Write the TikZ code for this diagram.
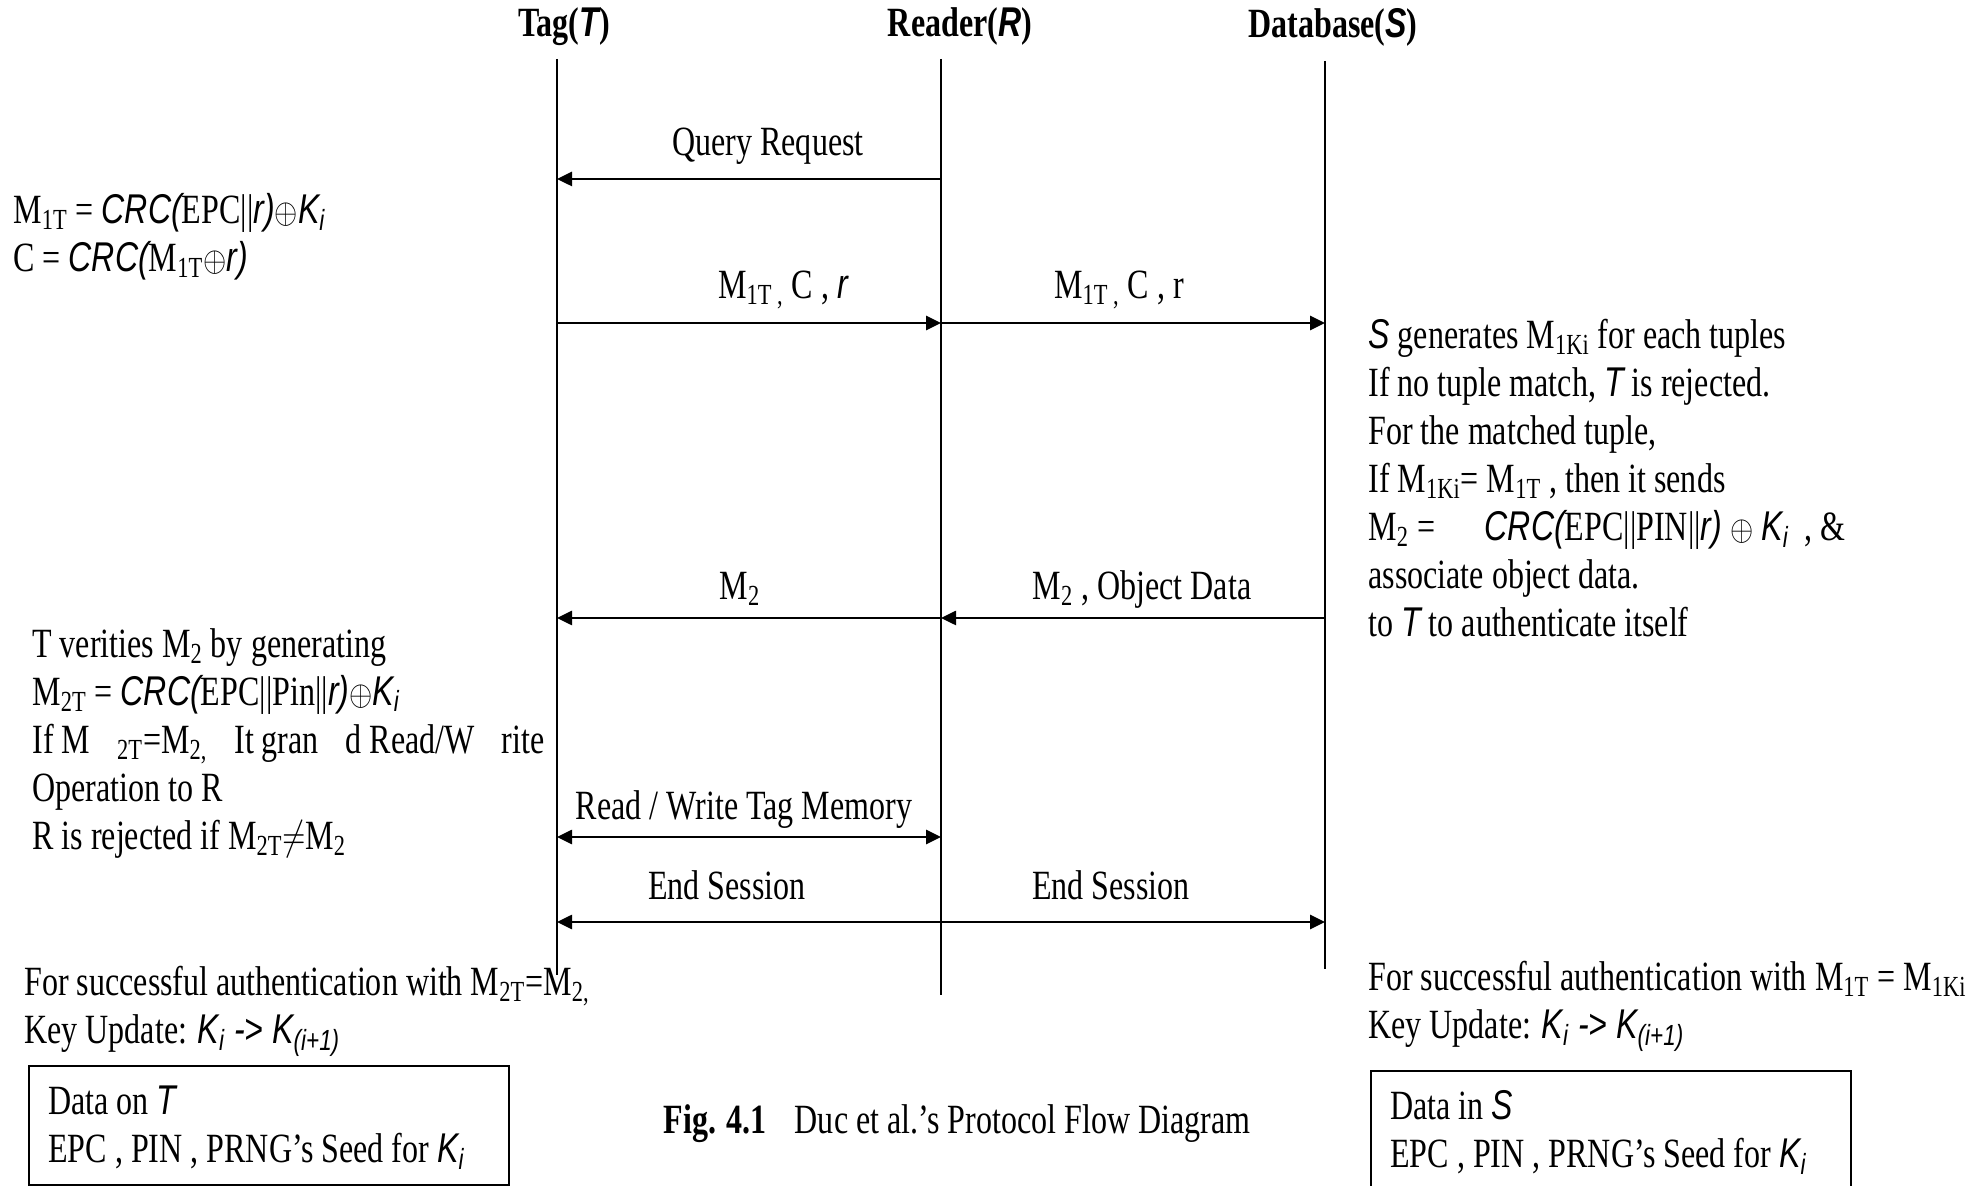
\documentclass[tikz,border=0pt]{standalone}
\usepackage{fontspec}
\setmainfont{Liberation Serif}[FakeStretch=0.77]
\newfontfamily\arialfont{Liberation Sans}[FakeStretch=0.77]
\usetikzlibrary{arrows.meta}
\newcommand{\ai}[1]{{\arialfont\itshape #1}}
\newcommand{\sbs}[1]{\textsubscript{#1}}
\newcommand{\xor}{\scalebox{0.72}[0.85]{$\oplus$}}

\begin{document}
\begin{tikzpicture}[x=0.5pt,y=-0.5pt,
  font=\fontsize{20.8}{24}\selectfont,
  life/.style={line width=0.9pt},
  msg/.style={line width=1.3pt,-{Triangle[length=7.5pt,width=7pt]}},
  twoway/.style={line width=1.3pt,{Triangle[length=7.5pt,width=7pt]}-{Triangle[length=7.5pt,width=7pt]}},
  note/.style={align=left,inner sep=0pt,anchor=west},
  lbl/.style={inner sep=0pt},
  head/.style={inner sep=0pt,font=\fontsize{20.8}{24}\selectfont\bfseries},
  databox/.style={draw,line width=0.9pt,anchor=north west,minimum width=240pt,minimum height=59.5pt}
]
\useasboundingbox (0,0) rectangle (1986,1186);

% parties and lifelines
\node[head] (tag) at (564,27) {Tag(\ai{T})};
\node[head] (reader) at (960,27) {Reader(\ai{R})};
\node[head] (db) at (1333,27) {Database(\ai{S})};
\coordinate (T0) at (557,59);  \coordinate (T1) at (557,975);
\coordinate (R0) at (941,59);  \coordinate (R1) at (941,995);
\coordinate (S0) at (1325,61); \coordinate (S1) at (1325,969);
\draw[life] (T0) -- (T1);
\draw[life] (R0) -- (R1);
\draw[life] (S0) -- (S1);

% message rows
\coordinate (q) at (0,179);
\coordinate (m1) at (0,323);
\coordinate (m2) at (0,618);
\coordinate (rw) at (0,837);
\coordinate (es) at (0,922);

\draw[msg] (R0 |- q) -- (T0 |- q);
\draw[msg] (T0 |- m1) -- (R0 |- m1);
\draw[msg] (R0 |- m1) -- (S0 |- m1);
\draw[msg] (S0 |- m2) -- (R0 |- m2);
\draw[msg] (R0 |- m2) -- (T0 |- m2);
\draw[twoway] (T0 |- rw) -- (R0 |- rw);
\draw[twoway] (T0 |- es) -- (S0 |- es);

\node[lbl] (qlbl) at (768,146) {Query Request};
\node[lbl] (m1l) at (783,290) {M\sbs{1T ,} C , \ai{r}};
\node[lbl] (m1r) at (1119,290) {M\sbs{1T ,} C , r};
\node[lbl] (m2l) at (740,589) {M\sbs{2}};
\node[lbl] (m2r) at (1142,589) {M\sbs{2} , Object Data};
\node[lbl] (rwl) at (744,810) {Read / Write Tag Memory};
\node[lbl] (esl) at (727,885) {End Session};
\node[lbl] (esr) at (1111,885) {End Session};

% side notes
\node[note] (calcT) at (13,237) {M\sbs{1T} = \ai{CRC(}EPC||\ai{r)}\xor\ai{K\sbs{i}}\\
  C = \ai{CRC(}M\sbs{1T}\xor\ai{r)}};
\node[note] (verT) at (32,743) {T verities M\sbs{2} by generating\\
  M\sbs{2T} = \ai{CRC(}EPC||Pin||\ai{r)}\xor\ai{K\sbs{i}}\\
  \makebox[256pt][s]{If M\hfill\sbs{2T}=M\sbs{2,}\hfill It gran\hfill d Read/W\hfill rite}\\
  Operation to R\\
  R is rejected if M\sbs{2T}\scalebox{0.77}[1]{$\neq$}M\sbs{2}};
\node[note] (chkS) at (1368,478) {\ai{S} generates M\sbs{1Ki} for each tuples\\
  If no tuple match, \ai{T} is rejected.\\
  For the matched tuple,\\
  If M\sbs{1Ki}= M\sbs{1T} , then it sends\\
  M\sbs{2} =\quad\ \ai{CRC(}EPC||PIN||\ai{r)} \xor\ \ai{K\sbs{i}}\ \ , \&\\
  associate object data.\\
  to \ai{T} to authenticate itself};
\node[note] (updT) at (24,1011) {For successful authentication with M\sbs{2T}=M\sbs{2,}\\
  Key Update: \ai{K\sbs{i} -> K\sbs{(i+1)}}};
\node[note] (updS) at (1368,1006) {For successful authentication with M\sbs{1T} = M\sbs{1Ki}\\
  Key Update: \ai{K\sbs{i} -> K\sbs{(i+1)}}};

% stored data
\node[databox] (dataT) at (28,1065) {};
\node[note] (dataTtxt) at ([xshift=10pt,yshift=-1pt]dataT.west) {Data on \ai{T}\\ EPC , PIN , PRNG’s Seed for \ai{K\sbs{i}}};
\node[databox] (dataS) at (1370,1070) {};
\node[note] (dataStxt) at ([xshift=10pt,yshift=-1pt]dataS.west) {Data in \ai{S}\\ EPC , PIN , PRNG’s Seed for \ai{K\sbs{i}}};

\node[lbl] (cap) at (957,1124) {\textbf{Fig. 4.1}\hspace{14pt}Duc et al.’s Protocol Flow Diagram};
\end{tikzpicture}
\end{document}
